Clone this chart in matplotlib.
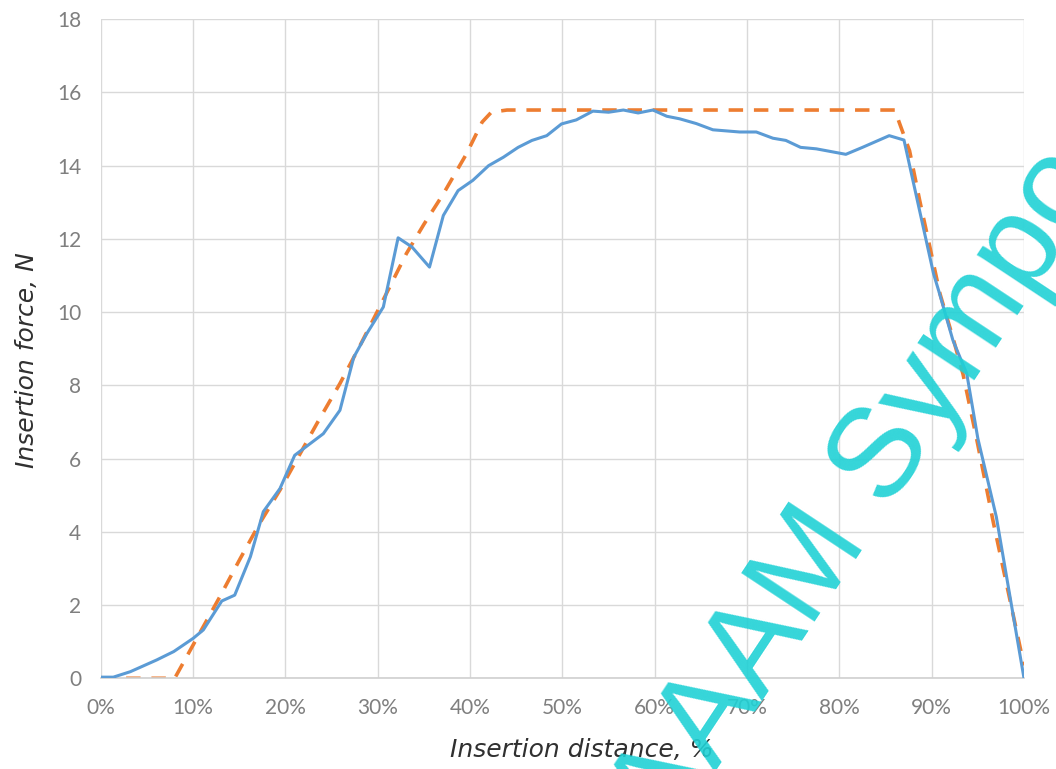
import matplotlib
matplotlib.use("Agg")
import matplotlib.pyplot as plt
from matplotlib.ticker import FuncFormatter

# Measured insertion force along the insertion distance (solid line)
measured_x = [0, 1.35, 3.2, 6.05, 7.9, 10.0, 11.1, 13.1, 14.5, 16.2, 17.6, 19.4,
              21.0, 24.1, 25.9, 27.4, 28.8, 30.6, 32.2, 33.7, 35.6, 37.1, 38.7,
              40.3, 42.0, 43.6, 45.2, 46.7, 48.3, 49.9, 51.5, 53.3, 55.0, 56.6,
              58.2, 59.8, 61.3, 62.7, 64.5, 66.3, 69.2, 71.0, 72.8, 74.2, 75.8,
              77.5, 80.7, 82.5, 85.4, 87.0, 90.2, 90.8, 92.3, 93.8, 95.0, 97.0,
              100.0]
measured_f = [0.03, 0.03, 0.18, 0.50, 0.73, 1.09, 1.32, 2.11, 2.27, 3.32, 4.55,
              5.18, 6.09, 6.68, 7.32, 8.77, 9.41, 10.14, 12.03, 11.78, 11.23,
              12.64, 13.32, 13.60, 14.00, 14.23, 14.50, 14.69, 14.82, 15.14,
              15.25, 15.49, 15.46, 15.52, 15.44, 15.52, 15.35, 15.28, 15.15,
              14.98, 14.92, 14.92, 14.75, 14.69, 14.50, 14.46, 14.31, 14.50,
              14.82, 14.70, 11.05, 10.55, 9.23, 8.32, 6.55, 4.41, 0.0]

# Model curve (dashed line)
model_x = [0, 8.0, 10.7, 12.9, 15.1, 17.2, 19.4, 21.2, 23.5, 25.9, 28.0, 30.2,
           33.1, 35.0, 37.1, 39.6, 41.3, 42.3, 44.0, 86.0, 86.6, 87.6, 88.7,
           89.8, 90.9, 92.3, 93.4, 94.9, 96.7, 100.0]
model_f = [0, 0, 1.23, 2.23, 3.27, 4.23, 5.14, 5.96, 7.0, 8.05, 9.05, 10.14,
           11.6, 12.4, 13.23, 14.32, 15.19, 15.46, 15.52, 15.52, 15.1, 14.41,
           13.05, 11.78, 10.5, 9.3, 8.3, 6.5, 4.23, 0.35]

x_ticks = list(range(0, 101, 10))
y_ticks = list(range(0, 19, 2))

x_label = "Insertion distance, %"
y_label = "Insertion force, N"
stamp = "AAAM Symposium"

tick_font = ["Lato", "DejaVu Sans"]
label_font = ["Liberation Sans Narrow", "DejaVu Sans"]

fig = plt.figure(figsize=(10.56, 7.69), dpi=100)
ax = fig.add_axes([0.0955, 0.118, 0.8742, 0.857])

ax.plot(measured_x, measured_f, color="#5B9BD5", lw=2.2, solid_joinstyle="round",
        zorder=3)
ax.plot(model_x, model_f, color="#ED7D31", lw=2.6, dashes=(4.0, 3.0),
        dash_capstyle="butt", zorder=2)

ax.set_xlim(0, 100)
ax.set_ylim(0, 18)
ax.set_xticks(x_ticks)
ax.set_yticks(y_ticks)
ax.xaxis.set_major_formatter(FuncFormatter(lambda v, p: f"{int(v)}%"))
ax.grid(True, color="#d9d9d9", lw=1.0)
ax.set_axisbelow(True)
for side in ("top", "right", "left"):
    ax.spines[side].set_visible(False)
ax.spines["bottom"].set_color("#d0d0d0")
ax.spines["bottom"].set_linewidth(1.2)
ax.tick_params(length=0, colors="#7f7f7f", labelsize=15)
ax.tick_params(axis="y", pad=14)
ax.tick_params(axis="x", pad=14)
for lbl in ax.get_xticklabels() + ax.get_yticklabels():
    lbl.set_fontfamily(tick_font)

fig.text(582 / 1056, 1 - 750 / 769, x_label, ha="center", va="center",
         fontsize=18, style="italic", color="#303030", family=label_font)
fig.text(27 / 1056, 1 - 360 / 769, y_label, ha="center", va="center",
         rotation=90, fontsize=18, style="italic", color="#303030",
         family=label_font)

# Diagonal stamp across the lower right of the figure
fig.text(668 / 1056, 1 - 843 / 769, stamp, ha="left", va="baseline",
         rotation=56.5, rotation_mode="anchor", fontsize=92,
         family=["Liberation Sans", "DejaVu Sans"], color=(0.12, 0.82, 0.835),
         alpha=0.9, zorder=10)

fig.savefig("out.png", dpi=100)
